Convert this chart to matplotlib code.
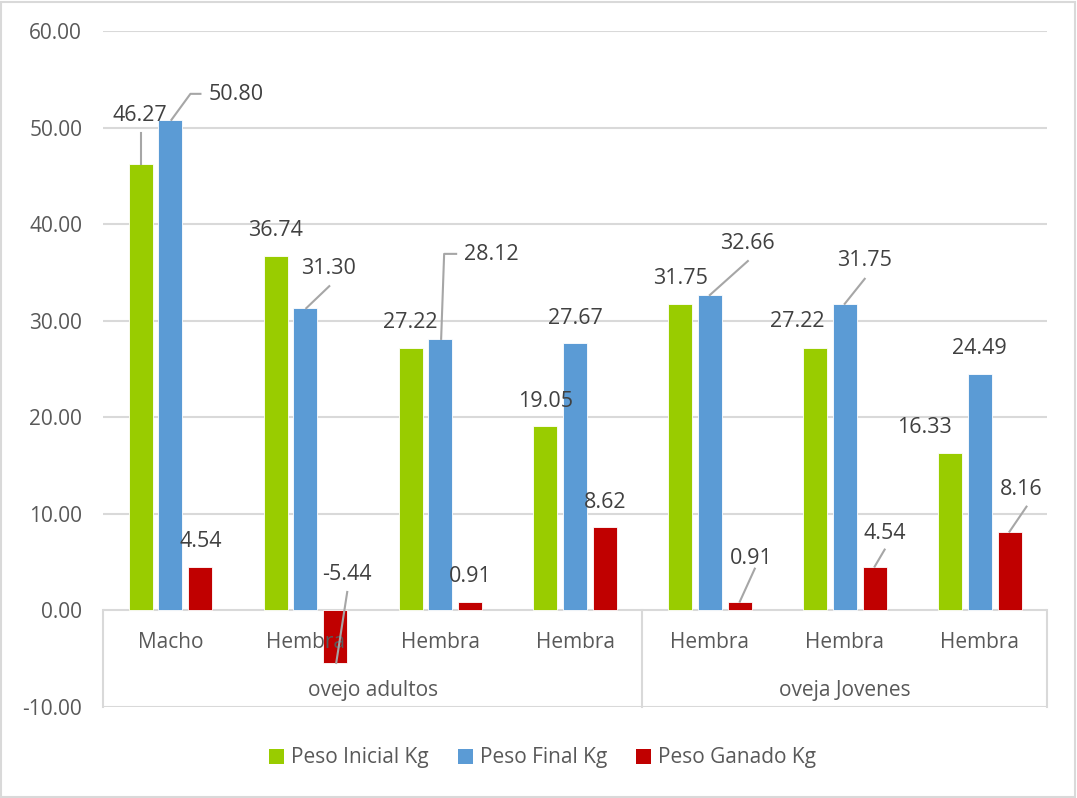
import numpy as np
import matplotlib
matplotlib.use("Agg")
import matplotlib.pyplot as plt
from matplotlib.patches import Patch, Rectangle
from matplotlib.lines import Line2D
from matplotlib.transforms import IdentityTransform

plt.rcParams['font.family'] = ['Open Sans', 'DejaVu Sans']

# data
categories = ["Macho", "Hembra", "Hembra", "Hembra", "Hembra", "Hembra", "Hembra"]
groups = ["ovejo adultos", "oveja Jovenes"]
group_sizes = [4, 3]
peso_inicial = [46.27, 36.74, 27.22, 19.05, 31.75, 27.22, 16.33]
peso_final = [50.80, 31.30, 28.12, 27.67, 32.66, 31.75, 24.49]
peso_ganado = [4.54, -5.44, 0.91, 8.62, 0.91, 4.54, 8.16]
series_names = ["Peso Inicial Kg", "Peso Final Kg", "Peso Ganado Kg"]
colors = ["#99CC00", "#5B9BD5", "#C00000"]

# label placement (pixel offsets from bar end, image convention: +y down)
# key: (series, category) -> (dx, dy, leader points)
label_pos = {
    (0, 0): (-1, -48, [(0, 0), (0, -31)]),
    (1, 0): (66, -25, [(1, 0), (20, -26), (30, -26)]),
    (1, 1): (23, -40, [(1, 0), (24, -22)]),
    (2, 1): (12, -88, [(1, 0), (12, -71)]),
    (1, 2): (51, -84, [(1, 0), (4, -85), (16, -85)]),
    (1, 4): (38, -52, [(0, 0), (38, -34)]),
    (2, 4): (11, -43, [(0, 0), (15, -33)]),
    (1, 5): (20, -43, [(0, 0), (20, -25)]),
    (2, 5): (10, -33, [(0, 0), (10, -17)]),
    (2, 6): (12, -42, [(0, 0), (17, -25)]),
    (0, 5): (-18, -26, None),
    (0, 6): (-26, -25, None),
}

W, H = 1077, 798
fig = plt.figure(figsize=(W / 100, H / 100), dpi=100)
ax = fig.add_axes([103 / W, 1 - 707 / H, 944 / W, 676 / H])

grid_c = "#D9D9D9"
text_c = "#595959"
lab_c = "#404040"
fs = 15
lfs = 15.5

x = np.arange(len(categories)) + 0.5
bw = 0.178
offs = [-0.219, 0.0, 0.222]
all_series = [peso_inicial, peso_final, peso_ganado]
for s, vals in enumerate(all_series):
    ax.bar(x + offs[s], vals, width=bw, color=colors[s], zorder=3,
           edgecolor="white", linewidth=0.6)

ax.set_xlim(0, len(categories))
ax.set_ylim(-10, 60)
ax.set_yticks(np.arange(-10, 61, 10))
ax.set_yticklabels([f"{v:.2f}" for v in np.arange(-10, 61, 10)])
ax.tick_params(axis="y", length=0, pad=15, labelsize=fs, labelcolor=text_c)
ax.set_xticks([])
for sp in ax.spines.values():
    sp.set_visible(False)
ax.grid(axis="y", color=grid_c, linewidth=1.5, zorder=0)

# category axis separators
bounds = np.concatenate([[0], np.cumsum(group_sizes)])
for b in bounds:
    ax.plot([b, b], [0, -10], color=grid_c, linewidth=1.5, clip_on=False, zorder=1)

for xi, c in zip(x, categories):
    ax.annotate(c, (xi, 0), xytext=(0, -32), textcoords="offset pixels",
                ha="center", va="center", fontsize=fs, color=text_c)
for i, g in enumerate(groups):
    gx = (bounds[i] + bounds[i + 1]) / 2
    ax.annotate(g, (gx, 0), xytext=(0, -80), textcoords="offset pixels",
                ha="center", va="center", fontsize=fs, color=text_c)

# data labels
fig.canvas.draw()
for s, vals in enumerate(all_series):
    for i, v in enumerate(vals):
        bx = x[i] + offs[s]
        dx, dy, leader = label_pos.get((s, i), (0, -25, None))
        ax.annotate(f"{v:.2f}", (bx, v), xytext=(dx, -dy), textcoords="offset pixels",
                    ha="center", va="center", fontsize=lfs, color=lab_c, zorder=5)
        if leader:
            px, py = ax.transData.transform((bx, v))
            xs = [px + p[0] for p in leader]
            ys = [py - p[1] for p in leader]
            fig.add_artist(Line2D(xs, ys, transform=IdentityTransform(),
                                  color="#A6A6A6", linewidth=1.5, zorder=6))

handles = [Patch(facecolor=c, edgecolor="none") for c in colors]
fig.legend(handles, series_names, loc="center", bbox_to_anchor=(0.504, 1 - 758 / H),
           ncol=3, frameon=False, fontsize=fs, handlelength=0.7, handleheight=0.7,
           handletextpad=0.35, columnspacing=1.4, labelcolor=text_c)

fig.add_artist(Rectangle((1 / W, 1 / H), 1 - 3 / W, 1 - 3 / H, transform=fig.transFigure,
                         fill=False, edgecolor=grid_c, linewidth=1.5))

fig.savefig("out.png", dpi=100)
